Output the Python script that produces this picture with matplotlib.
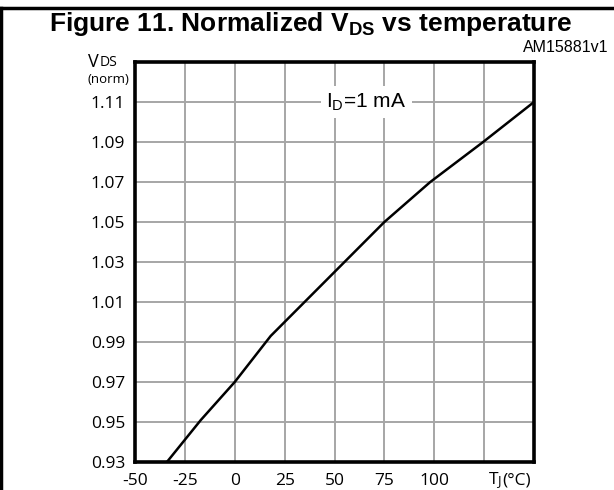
import matplotlib
matplotlib.use("Agg")
import matplotlib.pyplot as plt
from matplotlib.lines import Line2D

plt.rcParams['mathtext.fontset'] = 'custom'
plt.rcParams['mathtext.rm'] = 'Liberation Sans'
plt.rcParams['mathtext.bf'] = 'Liberation Sans:bold'
plt.rcParams['mathtext.it'] = 'Liberation Sans'

# data
temp_c = [-34, -17, 0, 18, 36, 55, 75, 98, 124.5, 150]
vds_norm = [0.93, 0.951, 0.97, 0.993, 1.011, 1.03, 1.05, 1.07, 1.09, 1.11]

x_ticks = [-50, -25, 0, 25, 50, 75, 100, 125, 150]
x_labels = ['-50', '-25', '0', '25', '50', '75', '100', '', '']
y_ticks = [0.93, 0.95, 0.97, 0.99, 1.01, 1.03, 1.05, 1.07, 1.09, 1.11, 1.13]
y_labels = ['0.93', '0.95', '0.97', '0.99', '1.01', '1.03', '1.05', '1.07', '1.09', '1.11', '']

W, H = 614, 490
fig = plt.figure(figsize=(W / 100, H / 100), dpi=100)
ax = fig.add_axes([135 / W, (H - 462) / H, (534 - 135) / W, (462 - 62) / H])

ax.set_xlim(-50, 150)
ax.set_ylim(0.93, 1.13)
ax.set_xticks(x_ticks)
ax.set_xticklabels(x_labels)
ax.set_yticks(y_ticks)
ax.set_yticklabels(y_labels)
ax.tick_params(axis='y', length=0, labelsize=12.5, pad=7)
ax.tick_params(axis='x', length=0, labelsize=12.5, pad=8)
for lab in ax.get_xticklabels() + ax.get_yticklabels():
    lab.set_fontfamily('Open Sans')
ax.grid(True, color='#a6a6a6', linewidth=1.4)
ax.set_axisbelow(True)
for s in ax.spines.values():
    s.set_linewidth(2.6)
    s.set_color('black')

ax.plot(temp_c, vds_norm, color='black', linewidth=1.8, solid_joinstyle='round', zorder=3)

ax.text(66, 1.11, r'I$_{\mathrm{D}}$=1 mA', ha='center', va='center', fontsize=15,
        family='Liberation Sans',
        bbox=dict(facecolor='white', edgecolor='none', pad=4), zorder=4)

# axis titles
fig.text(489 / W, (H - 480) / H, 'T', ha='left', va='center', fontsize=12.5, family='Open Sans')
fig.text(497 / W, (H - 481) / H, 'J', ha='left', va='center', fontsize=9.5, family='Open Sans')
fig.text(502 / W, (H - 480) / H, '(°C)', ha='left', va='center', fontsize=12.5, family='Open Sans')

fig.text(88 / W, (H - 62) / H, 'V', ha='left', va='center', fontsize=13, family='Open Sans')
fig.text(100 / W, (H - 63) / H, 'DS', ha='left', va='center', fontsize=10, family='Open Sans')
fig.text(108 / W, (H - 79) / H, '(norm)', ha='center', va='center', fontsize=9.5, family='Open Sans')

# title and reference code
fig.text(311 / W, (H - 24) / H, r'Figure 11. Normalized V$_{\mathbf{DS}}$ vs temperature',
         ha='center', va='center', fontsize=19, fontweight='bold', family='Liberation Sans')
fig.text(608 / W, (H - 48) / H, 'AM15881v1', ha='right', va='center', fontsize=11.5,
         family='Liberation Sans')

# frame lines
fig.add_artist(Line2D([0, 1], [(H - 8) / H, (H - 8) / H], transform=fig.transFigure,
                      color='black', linewidth=2.5))
fig.add_artist(Line2D([1.5 / W, 1.5 / W], [0, (H - 8) / H], transform=fig.transFigure,
                      color='black', linewidth=2.5))

fig.savefig('out.png', dpi=100)
